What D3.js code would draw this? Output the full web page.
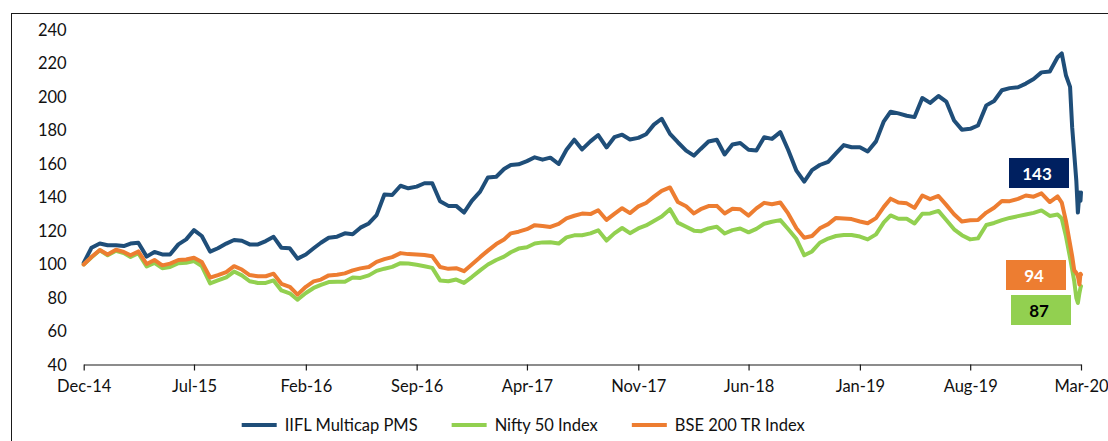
<!DOCTYPE html>
<html>
<head>
<meta charset="utf-8">
<script src="https://cdn.jsdelivr.net/npm/d3@7"></script>
<style>
  html, body { margin: 0; padding: 0; background: #fff; }
  svg { display: block; font-family: Lato, 'Open Sans', sans-serif; }
</style>
</head>
<body>
<svg id="chart" width="1108" height="441"></svg>
<script>
// semi-monthly points Dec-14 .. Jan-20, then the Feb/Mar-20 crash read day by day
const crashDates = ['2020-01-24', '2020-02-01', '2020-02-09', '2020-02-13', '2020-02-17',
  '2020-02-21', '2020-02-24', '2020-02-27', '2020-02-29', '2020-03-01'];

const seriesNames = ['IIFL Multicap PMS', 'Nifty 50 Index', 'BSE 200 TR Index'];
const seriesColors = ['#1f4e79', '#92d050', '#ed7d31'];

const iiflValues = [
  101, 110, 112.5, 111.5, 111.5, 111, 112.5, 113, 104.7, 107.5,
  106, 106, 112, 115, 120.5, 117, 107.7, 109.7, 112.5, 114.6,
  114.2, 112, 112, 114, 116.5, 110, 109.7, 103.5, 106, 109.7,
  113, 116, 116.6, 118.6, 118, 122, 124.5, 129.5, 141.8, 141.5,
  147, 145.5, 146.5, 148.5, 148.5, 137.8, 135, 135, 131, 138,
  143.5, 152, 152.4, 157, 159.4, 159.8, 161.7, 164, 162.6, 163.8,
  160, 168.5, 174.5, 168.7, 173.5, 177.3, 169.9, 176, 177.5, 174.6,
  175.6, 177.8, 183.5, 187, 178, 173, 168, 165, 169, 173.4,
  174.5, 165.7, 171.6, 172.5, 168.5, 168, 176, 175, 179, 168.5,
  156, 149.5, 156.3, 159.4, 161.3, 166.3, 171.3, 170, 170, 167.5,
  173.5, 185.5, 191.2, 190.2, 188.8, 188, 199.4, 196.5, 200.6, 197.3,
  186, 180.5, 181, 183, 195, 197.6, 204, 205.3, 205.8, 208,
  210.7, 214.7, 215.2, 223.7,
  226, 213, 206, 182, 166, 150, 131, 143, 138, 143
];

const niftyValues = [
  100, 104.3, 108.5, 105.5, 108.2, 106.8, 104.5, 106.8, 98.8, 101,
  97.8, 98.5, 100.8, 101, 102, 99, 88.7, 90.5, 92.3, 95.8,
  93.5, 90, 89, 89, 90.5, 84.5, 82.8, 79, 83, 86,
  87.8, 89.5, 89.7, 89.7, 92.2, 92, 93.5, 96.2, 97.5, 98.6,
  100.8, 100.6, 99.8, 99, 98, 90.5, 90, 91, 89, 92.5,
  96.5, 100, 102.7, 104.7, 107.3, 109.5, 110.3, 112.5, 113.2, 113.3,
  112.5, 116.2, 117.4, 117.5, 118.6, 120.4, 114.3, 118.6, 121.8, 118.7,
  121.5, 123.3, 126, 128.6, 133, 125, 122.5, 120.2, 119.8, 121.5,
  122.6, 118.5, 120.5, 121.5, 119.2, 121.3, 124.3, 125.5, 126.5, 121.2,
  115.2, 105.5, 107.8, 113, 115.5, 117, 117.6, 117.6, 116.7, 115,
  118, 125.2, 129.3, 127.3, 127.3, 124.5, 130.3, 130.5, 132, 126.6,
  121, 117.5, 115, 115.6, 123.6, 124.8, 126.5, 127.8, 128.9, 129.8,
  130.8, 132.3, 129, 129.8,
  127.5, 117, 104, 97, 90, 80, 77, 83, 86, 87
];

const bseValues = [
  100, 104.5, 108.7, 106, 108.8, 107.5, 105.5, 107.8, 100.3, 102.7,
  99.5, 100.5, 102.7, 103, 104, 101.5, 92.2, 93.7, 95.5, 99,
  97, 93.7, 93, 93, 94.5, 88.5, 86.7, 82, 86.7, 89.9,
  91, 93.5, 93.9, 94.7, 96.5, 97.7, 98.5, 101.6, 103.2, 104.4,
  106.8, 106.2, 106, 105.7, 104.9, 98.5, 97.4, 97.8, 96, 100,
  104.4, 108.3, 112.2, 114.9, 118.6, 119.6, 121.1, 123.5, 123, 122.4,
  124.2, 127.5, 129.1, 130.4, 130.1, 132.4, 126.6, 130.2, 133.6, 130.7,
  134.7, 136.7, 140.5, 144, 146, 137.3, 134.8, 130.5, 133, 134.9,
  135, 130.5, 133.3, 133, 129.2, 133.5, 136.8, 136, 137, 130.5,
  121.6, 116, 117, 121.6, 124.1, 127.8, 127.4, 127.1, 125.7, 124.6,
  127.7, 134.4, 139.3, 137, 136.5, 133.8, 141.2, 139, 140.9, 135.6,
  130, 125.7, 126.4, 126.6, 131, 133.9, 137.9, 137.8, 139.2, 141.2,
  140.5, 142.5, 137.3, 140.7,
  137, 126, 112, 105, 96.5, 95, 93, 88, 94.5, 94
];

const yTicks = [40, 60, 80, 100, 120, 140, 160, 180, 200, 220, 240];
const xTickLabels = ['Dec-14', 'Jul-15', 'Feb-16', 'Sep-16', 'Apr-17', 'Nov-17',
  'Jun-18', 'Jan-19', 'Aug-19', 'Mar-20'];

// end-value callouts
const endLabels = [
  { text: '143', fill: '#002060', color: '#fff', dx: -72, top: 158 },
  { text: '94', fill: '#ed7d31', color: '#fff', dx: -75, top: 260 },
  { text: '87', fill: '#92d050', color: '#000', dx: -70, top: 295 },
];

const start = new Date(2014, 11, 1);
const dates = [];
for (let m = 0; m < 62; m++) {
  const d = d3.timeMonth.offset(start, m);
  dates.push(d, new Date(d.getFullYear(), d.getMonth(), 16));
}
crashDates.forEach(s => dates.push(d3.timeParse('%Y-%m-%d')(s)));

const series = [iiflValues, niftyValues, bseValues].map((vals, i) => ({
  name: seriesNames[i], color: seriesColors[i],
  points: vals.map((v, j) => ({ date: dates[j], value: v })),
}));

const svg = d3.select('#chart');

// outer frame (Excel chart area border, clipped by the crop)
svg.append('rect').attr('x', 11.5).attr('y', 13.5).attr('width', 1120).attr('height', 460)
  .attr('fill', 'none').attr('stroke', '#1a1a1a').attr('stroke-width', 1);

const x = d3.scaleTime().domain([start, new Date(2020, 2, 1)]).range([83.7, 1081]);
const y = d3.scaleLinear().domain([40, 240]).range([365, 30]);

// y labels
const yAxis = svg.append('g').attr('transform', 'translate(83.7,0)')
  .call(d3.axisLeft(y).tickValues(yTicks).tickSize(0).tickPadding(17));
yAxis.select('.domain').remove();
yAxis.selectAll('text').attr('fill', '#111').style('font-size', '16.5px')
  .style('font-family', 'Lato, sans-serif');

// x axis
const xTickDates = xTickLabels.map((_, i) => d3.timeMonth.offset(start, 7 * i));
const xAxis = svg.append('g').attr('transform', 'translate(0,364.5)')
  .call(d3.axisBottom(x).tickValues(xTickDates).tickFormat((d, i) => xTickLabels[i])
    .tickSize(6).tickSizeOuter(0).tickPadding(10));
xAxis.select('.domain').attr('stroke', '#1a1a1a').attr('stroke-width', 1.2);
xAxis.selectAll('line').attr('stroke', '#1a1a1a').attr('stroke-width', 1.2);
xAxis.selectAll('text').attr('fill', '#111').style('font-size', '16.5px')
  .style('font-family', 'Lato, sans-serif');

// lines
const line = d3.line().x(d => x(d.date)).y(d => y(d.value));
svg.append('g').selectAll('path').data(series).enter().append('path')
  .attr('d', d => line(d.points))
  .attr('fill', 'none')
  .attr('stroke', d => d.color)
  .attr('stroke-width', 4)
  .attr('stroke-linejoin', 'round')
  .attr('stroke-linecap', 'round');

// end labels
const xEnd = x(dates[dates.length - 1]);
endLabels.forEach(l => {
  svg.append('rect').attr('x', xEnd + l.dx).attr('y', l.top)
    .attr('width', 60).attr('height', 30).attr('fill', l.fill);
  svg.append('text').attr('x', xEnd + l.dx + 28).attr('y', l.top + 15)
    .attr('text-anchor', 'middle').attr('dominant-baseline', 'central')
    .attr('fill', l.color).style('font-size', '17px').style('font-weight', '700')
    .text(l.text);
});

// legend
const legend = svg.append('g').attr('transform', 'translate(241.7,425)');
let lx = 0;
series.forEach(s => {
  legend.append('line').attr('x1', lx).attr('x2', lx + 35).attr('y1', 0).attr('y2', 0)
    .attr('stroke', s.color).attr('stroke-width', 4);
  const t = legend.append('text').attr('x', lx + 43).attr('y', 0)
    .attr('dominant-baseline', 'central').attr('fill', '#111')
    .style('font-size', '16.5px').text(s.name);
  lx += 43 + t.node().getComputedTextLength() + 34;
});
</script>
</body>
</html>
